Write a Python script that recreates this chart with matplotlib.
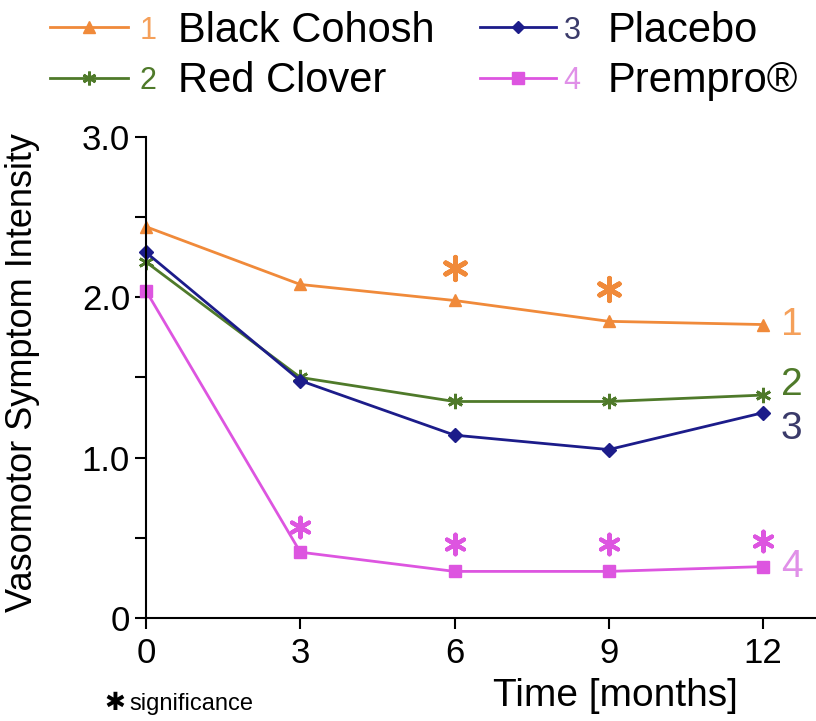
import matplotlib
matplotlib.use("Agg")
import matplotlib.pyplot as plt

months = [0, 3, 6, 9, 12]
black_cohosh = [2.44, 2.08, 1.98, 1.85, 1.83]
red_clover = [2.22, 1.50, 1.35, 1.35, 1.39]
placebo = [2.28, 1.48, 1.14, 1.05, 1.28]
prempro = [2.04, 0.41, 0.29, 0.29, 0.32]

sig_bc_x = [6, 9]
sig_bc_y = [2.18, 2.05]
sig_pp_x = [3, 6, 9, 12]
sig_pp_y = [0.57, 0.46, 0.46, 0.48]

labels = ["Black Cohosh", "Red Clover", "Placebo", "Prempro\u00ae"]
numbers = ["1", "2", "3", "4"]
yticks_major = [0, 1.0, 2.0, 3.0]
ytick_labels = ["0", "1.0", "2.0", "3.0"]
yticks_minor = [0.5, 1.5, 2.5]
xticks = [0, 3, 6, 9, 12]

plt.rcParams['font.family'] = ['Liberation Sans', 'DejaVu Sans']

c_bc = "#F08A3A"
c_rc = "#4F7A2A"
c_pl = "#1C1C8A"
c_pp = "#DD55E0"
num_colors = ["#F5A05A", "#4F7A2A", "#3A3A6A", "#E090E8"]

fig = plt.figure(figsize=(8.16, 7.21), dpi=100)
ax = fig.add_axes([0.179, 0.143, 0.821, 0.667])

l1, = ax.plot(months, black_cohosh, color=c_bc, lw=2, marker='^', ms=9, clip_on=False)
l2, = ax.plot(months, red_clover, color=c_rc, lw=2, marker=(6, 2, 0), ms=11, mew=2, clip_on=False)
l3, = ax.plot(months, placebo, color=c_pl, lw=2, marker='D', ms=7, clip_on=False)
l4, = ax.plot(months, prempro, color=c_pp, lw=2, marker='s', ms=9, clip_on=False)

ax.scatter(sig_bc_x, sig_bc_y, marker=(6, 2, 0), s=260, color=c_bc, linewidths=3.5)
ax.scatter(sig_pp_x, sig_pp_y, marker=(6, 2, 0), s=200, color=c_pp, linewidths=3)

ends = [black_cohosh[-1], red_clover[-1], placebo[-1], prempro[-1]]
offs = [0.0, 0.06, -0.1, 0.0]
for n, y, o, c in zip(numbers, ends, offs, num_colors):
    ax.text(12.35, y + o, n, color=c, fontsize=28, va='center', ha='left', clip_on=False)

ax.set_xlim(0, 13.03)
ax.set_ylim(0, 3.0)
ax.set_xticks(xticks)
ax.set_xticklabels([str(x) for x in xticks])
ax.set_yticks(yticks_major)
ax.set_yticklabels(ytick_labels)
ax.set_yticks(yticks_minor, minor=True)
ax.tick_params(axis='both', which='both', direction='out', length=8, width=1.5, labelsize=25, colors='black')
ax.tick_params(axis='x', pad=6)
for s in ['top', 'right']:
    ax.spines[s].set_visible(False)
for s in ['left', 'bottom']:
    ax.spines[s].set_linewidth(1.5)

ax.set_ylabel("Vasomotor Symptom Intensity", fontsize=26)
ax.yaxis.set_label_coords(-0.158, 0.51)
ax.set_xlabel("Time [months]", fontsize=28)
ax.xaxis.set_label_coords(0.70, -0.125)

legA = fig.legend([l1, l2], labels[:2], loc='center left', bbox_to_anchor=(0.061, 0.922),
                  frameon=False, fontsize=30, handlelength=1.87, handletextpad=1.2,
                  labelspacing=0.25, borderpad=0.0, borderaxespad=0.0, markerscale=0.9)
legB = fig.legend([l3, l4], labels[2:], loc='center left', bbox_to_anchor=(0.588, 0.922),
                  frameon=False, fontsize=30, handlelength=1.82, handletextpad=1.25,
                  labelspacing=0.25, borderpad=0.0, borderaxespad=0.0, markerscale=0.9)
fig.canvas.draw()
r = fig.canvas.get_renderer()
inv = fig.transFigure.inverted()
texts = legA.get_texts() + legB.get_texts()
gaps = [21, 21, 27, 27]
for t, n, c, g in zip(texts, numbers, num_colors, gaps):
    bb = t.get_window_extent(r)
    x0, y0 = inv.transform((bb.x0 - g, (bb.y0 + bb.y1) / 2))
    fig.text(x0, y0, n, color=c, fontsize=22, va='center', ha='right')

fig.text(0.128, 0.025, "\u2731", fontsize=18, color='black', ha='left', va='center', family='DejaVu Sans')
fig.text(0.158, 0.023, "significance", fontsize=17, color='black', ha='left', va='center')

fig.savefig("out.png", dpi=100)
